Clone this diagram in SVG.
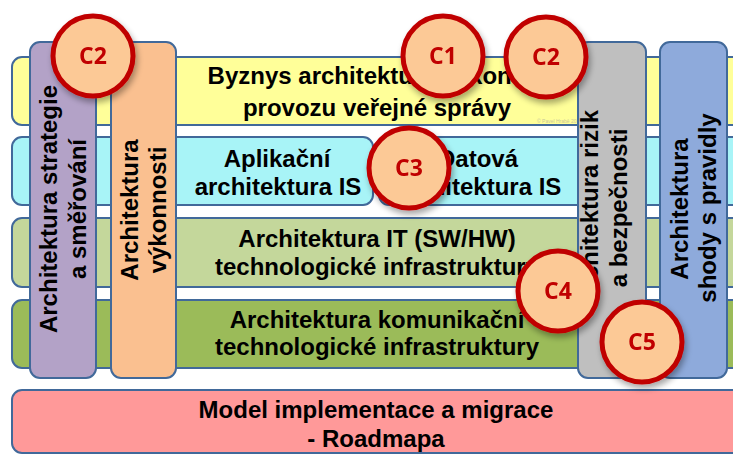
<svg xmlns="http://www.w3.org/2000/svg" width="733" height="454" viewBox="0 0 733 454">
<defs>
<style>
.band{stroke:#41699A;stroke-width:2}
.bar{stroke:#41699A;stroke-width:2}
.t{font-family:"Liberation Sans",Arial,sans-serif;font-weight:bold;font-size:24px;fill:#000;text-anchor:middle}
.c circle{fill:#FCC996;stroke:#C00000;stroke-width:5}
.c text{font-family:"Open Sans","Noto Sans",sans-serif;font-weight:bold;font-size:23px;fill:#C00000;text-anchor:middle}
.wm{font-family:"Liberation Sans",sans-serif;font-size:5px;fill:#C9C79A}
</style>
<filter id="sh" x="-30%" y="-30%" width="160%" height="160%">
<feGaussianBlur in="SourceAlpha" stdDeviation="3"/>
<feOffset dx="2" dy="4" result="b"/>
<feComponentTransfer><feFuncA type="linear" slope="0.35"/></feComponentTransfer>
<feMerge><feMergeNode/><feMergeNode in="SourceGraphic"/></feMerge>
</filter>
</defs>
<rect width="733" height="454" fill="#FFFFFF"/>
<g id="bands">
<g id="byznys">
<rect class="band" x="12" y="57" width="740" height="68" rx="10" fill="#FFFF99"/>
<text class="t" x="377" y="84">Byznys architektura výkonu a</text>
<text class="t" x="377" y="116">provozu veřejné správy</text>
<text class="wm" x="537" y="123">© Pavel Hrabě 2017</text>
</g>
<g id="aplikacni">
<rect class="band" x="12" y="137" width="361" height="68" rx="10" fill="#A8F4F7"/>
<text class="t" x="277" y="167">Aplikační</text>
<text class="t" x="278" y="195">architektura IS</text>
</g>
<g id="datova">
<rect class="band" x="379" y="137" width="370" height="68" rx="10" fill="#A8F4F7"/>
<text class="t" x="478" y="167">Datová</text>
<text class="t" x="478" y="195">architektura IS</text>
</g>
<g id="it">
<rect class="band" x="12" y="218" width="740" height="69" rx="10" fill="#C4D79B"/>
<text class="t" x="377" y="247">Architektura IT (SW/HW)</text>
<text class="t" x="377" y="275">technologické infrastruktury</text>
</g>
<g id="komunikacni">
<rect class="band" x="12" y="300" width="740" height="68" rx="10" fill="#9BBB59"/>
<text class="t" x="377" y="328">Architektura komunikační</text>
<text class="t" x="377" y="355">technologické infrastruktury</text>
</g>
<g id="roadmapa">
<rect class="band" x="12" y="390" width="740" height="63" rx="10" fill="#FF9999"/>
<text class="t" x="376" y="418">Model implementace a migrace</text>
<text class="t" x="376" y="447">- Roadmapa</text>
</g>
</g>
<g id="bars">
<g id="strategie">
<rect class="bar" x="30" y="42" width="66" height="336" rx="10" fill="#B3A2C7"/>
<text class="t" transform="translate(57,209) rotate(-90)">Architektura strategie</text>
<text class="t" transform="translate(86,209) rotate(-90)">a směřování</text>
</g>
<g id="vykonnosti">
<rect class="bar" x="111" y="42" width="65" height="336" rx="10" fill="#FAC090"/>
<text class="t" transform="translate(138,210) rotate(-90)">Architektura</text>
<text class="t" transform="translate(166,210) rotate(-90)">výkonnosti</text>
</g>
<g id="rizika">
<rect class="bar" x="578" y="42" width="68" height="336" rx="10" fill="#BFBFBF"/>
<text class="t" transform="translate(598,208) rotate(-90)">Architektura rizik</text>
<text class="t" transform="translate(627,208) rotate(-90)">a bezpečnosti</text>
</g>
<g id="shoda">
<rect class="bar" x="660" y="42" width="67" height="336" rx="10" fill="#8EAADB"/>
<text class="t" transform="translate(688,209) rotate(-90)">Architektura</text>
<text class="t" transform="translate(716,208) rotate(-90)">shody s pravidly</text>
</g>
</g>
<g id="markers">
<g class="c" id="c2a" filter="url(#sh)"><circle cx="93" cy="56" r="40"/><text x="93" y="64">C2</text></g>
<g class="c" id="c1" filter="url(#sh)"><circle cx="443" cy="56" r="40"/><text x="443" y="64">C1</text></g>
<g class="c" id="c2b" filter="url(#sh)"><circle cx="546" cy="57" r="40"/><text x="546" y="65">C2</text></g>
<g class="c" id="c3" filter="url(#sh)"><circle cx="409" cy="168" r="40"/><text x="409" y="176">C3</text></g>
<g class="c" id="c4" filter="url(#sh)"><circle cx="558" cy="291" r="40"/><text x="558" y="299">C4</text></g>
<g class="c" id="c5" filter="url(#sh)"><circle cx="642" cy="342" r="40"/><text x="642" y="350">C5</text></g>
</g>
<g id="connectors"/>
</svg>
